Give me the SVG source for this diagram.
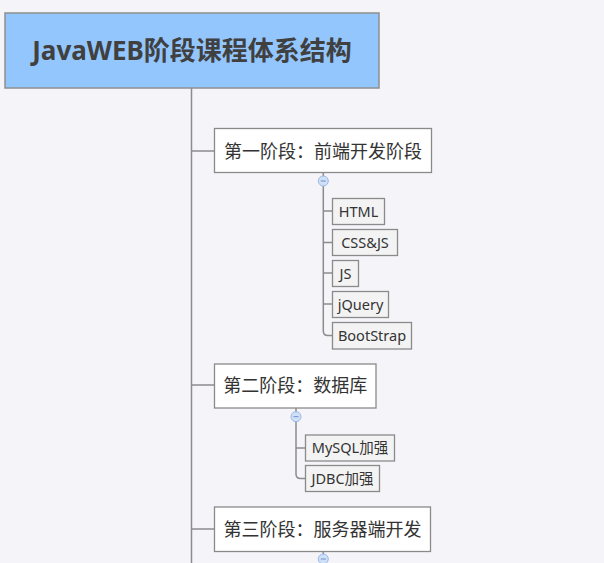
<svg xmlns="http://www.w3.org/2000/svg" width="604" height="563" viewBox="0 0 604 563">
<style>
.bg{fill:#f4f4f9}
.conn{fill:none;stroke:#8c8c8c;stroke-width:1.5}
.title{fill:#93c6fd;stroke:#8f8f8f;stroke-width:1.5}
.stage{fill:#ffffff;stroke:#8a8a8a;stroke-width:1.3}
.leaf{fill:#f3f3f3;stroke:#8a8a8a;stroke-width:1.3}
.tt{font-family:"Noto Sans","Noto Sans CJK SC",sans-serif;font-weight:bold;font-size:26px;fill:#404040}
.st{font-family:"Noto Sans CJK SC","Noto Sans",sans-serif;font-size:18px;fill:#333333}
.lt{font-family:"Noto Sans","Noto Sans CJK SC",sans-serif;font-size:14.5px;fill:#333333}
.toggle{fill:#cfe0f8;stroke:#9ab8e6;stroke-width:1}
.minus{stroke:#6e8fc4;stroke-width:1}
</style>
<rect class="bg" x="0" y="0" width="604" height="563"/>
<g id="connectors">
<path class="conn" d="M191.5,88 V563"/>
<path class="conn" d="M191.5,151 H214"/>
<path class="conn" d="M191.5,385 H214"/>
<path class="conn" d="M191.5,529 H214"/>
<path class="conn" d="M323.3,172 V331 Q323.3,335.5 327.8,335.5 H332"/>
<path class="conn" d="M323.3,211 H332"/>
<path class="conn" d="M323.3,242.5 H332"/>
<path class="conn" d="M323.3,273 H332"/>
<path class="conn" d="M323.3,304 H332"/>
<path class="conn" d="M296,408 V474 Q296,478.5 300.5,478.5 H305"/>
<path class="conn" d="M296,448 H305"/>
<path class="conn" d="M323.3,552 V563"/>
</g>
<g id="title">
<rect class="title" x="5" y="13" width="374" height="75"/>
<text class="tt" x="192" y="60" text-anchor="middle">JavaWEB阶段课程体系结构</text>
</g>
<g id="stage1">
<rect class="stage" x="214.5" y="128.5" width="217" height="44"/>
<text class="st" x="323" y="158" text-anchor="middle">第一阶段：前端开发阶段</text>
<circle class="toggle" cx="323.3" cy="181" r="5"/>
<line class="minus" x1="320.8" y1="181" x2="325.8" y2="181"/>
</g>
<g id="html">
<rect class="leaf" x="332.5" y="198.5" width="52" height="26"/>
<text class="lt" x="358.5" y="216.5" text-anchor="middle">HTML</text>
</g>
<g id="cssjs">
<rect class="leaf" x="332.5" y="229.5" width="65" height="26"/>
<text class="lt" x="365" y="247.5" text-anchor="middle">CSS&amp;JS</text>
</g>
<g id="js">
<rect class="leaf" x="332.5" y="260.5" width="26" height="26"/>
<text class="lt" x="345.5" y="278.5" text-anchor="middle">JS</text>
</g>
<g id="jquery">
<rect class="leaf" x="332.5" y="291.5" width="56" height="26"/>
<text class="lt" x="360.5" y="309.5" text-anchor="middle">jQuery</text>
</g>
<g id="bootstrap">
<rect class="leaf" x="332.5" y="322.5" width="79" height="26.5"/>
<text class="lt" x="372" y="340.5" text-anchor="middle">BootStrap</text>
</g>
<g id="stage2">
<rect class="stage" x="214.5" y="364" width="161.5" height="44"/>
<text class="st" x="295.2" y="392" text-anchor="middle">第二阶段：数据库</text>
<circle class="toggle" cx="296" cy="416.7" r="5"/>
<line class="minus" x1="293.5" y1="416.7" x2="298.5" y2="416.7"/>
</g>
<g id="mysql">
<rect class="leaf" x="305.5" y="435" width="89" height="26"/>
<text class="lt" x="350" y="453" text-anchor="middle">MySQL加强</text>
</g>
<g id="jdbc">
<rect class="leaf" x="305.5" y="465.5" width="74" height="26"/>
<text class="lt" x="342.5" y="483.5" text-anchor="middle">JDBC加强</text>
</g>
<g id="stage3">
<rect class="stage" x="214.5" y="507" width="216" height="44.5"/>
<text class="st" x="322.5" y="535.5" text-anchor="middle">第三阶段：服务器端开发</text>
<circle class="toggle" cx="323.3" cy="559" r="5"/>
<line class="minus" x1="320.8" y1="559" x2="325.8" y2="559"/>
</g>
</svg>
